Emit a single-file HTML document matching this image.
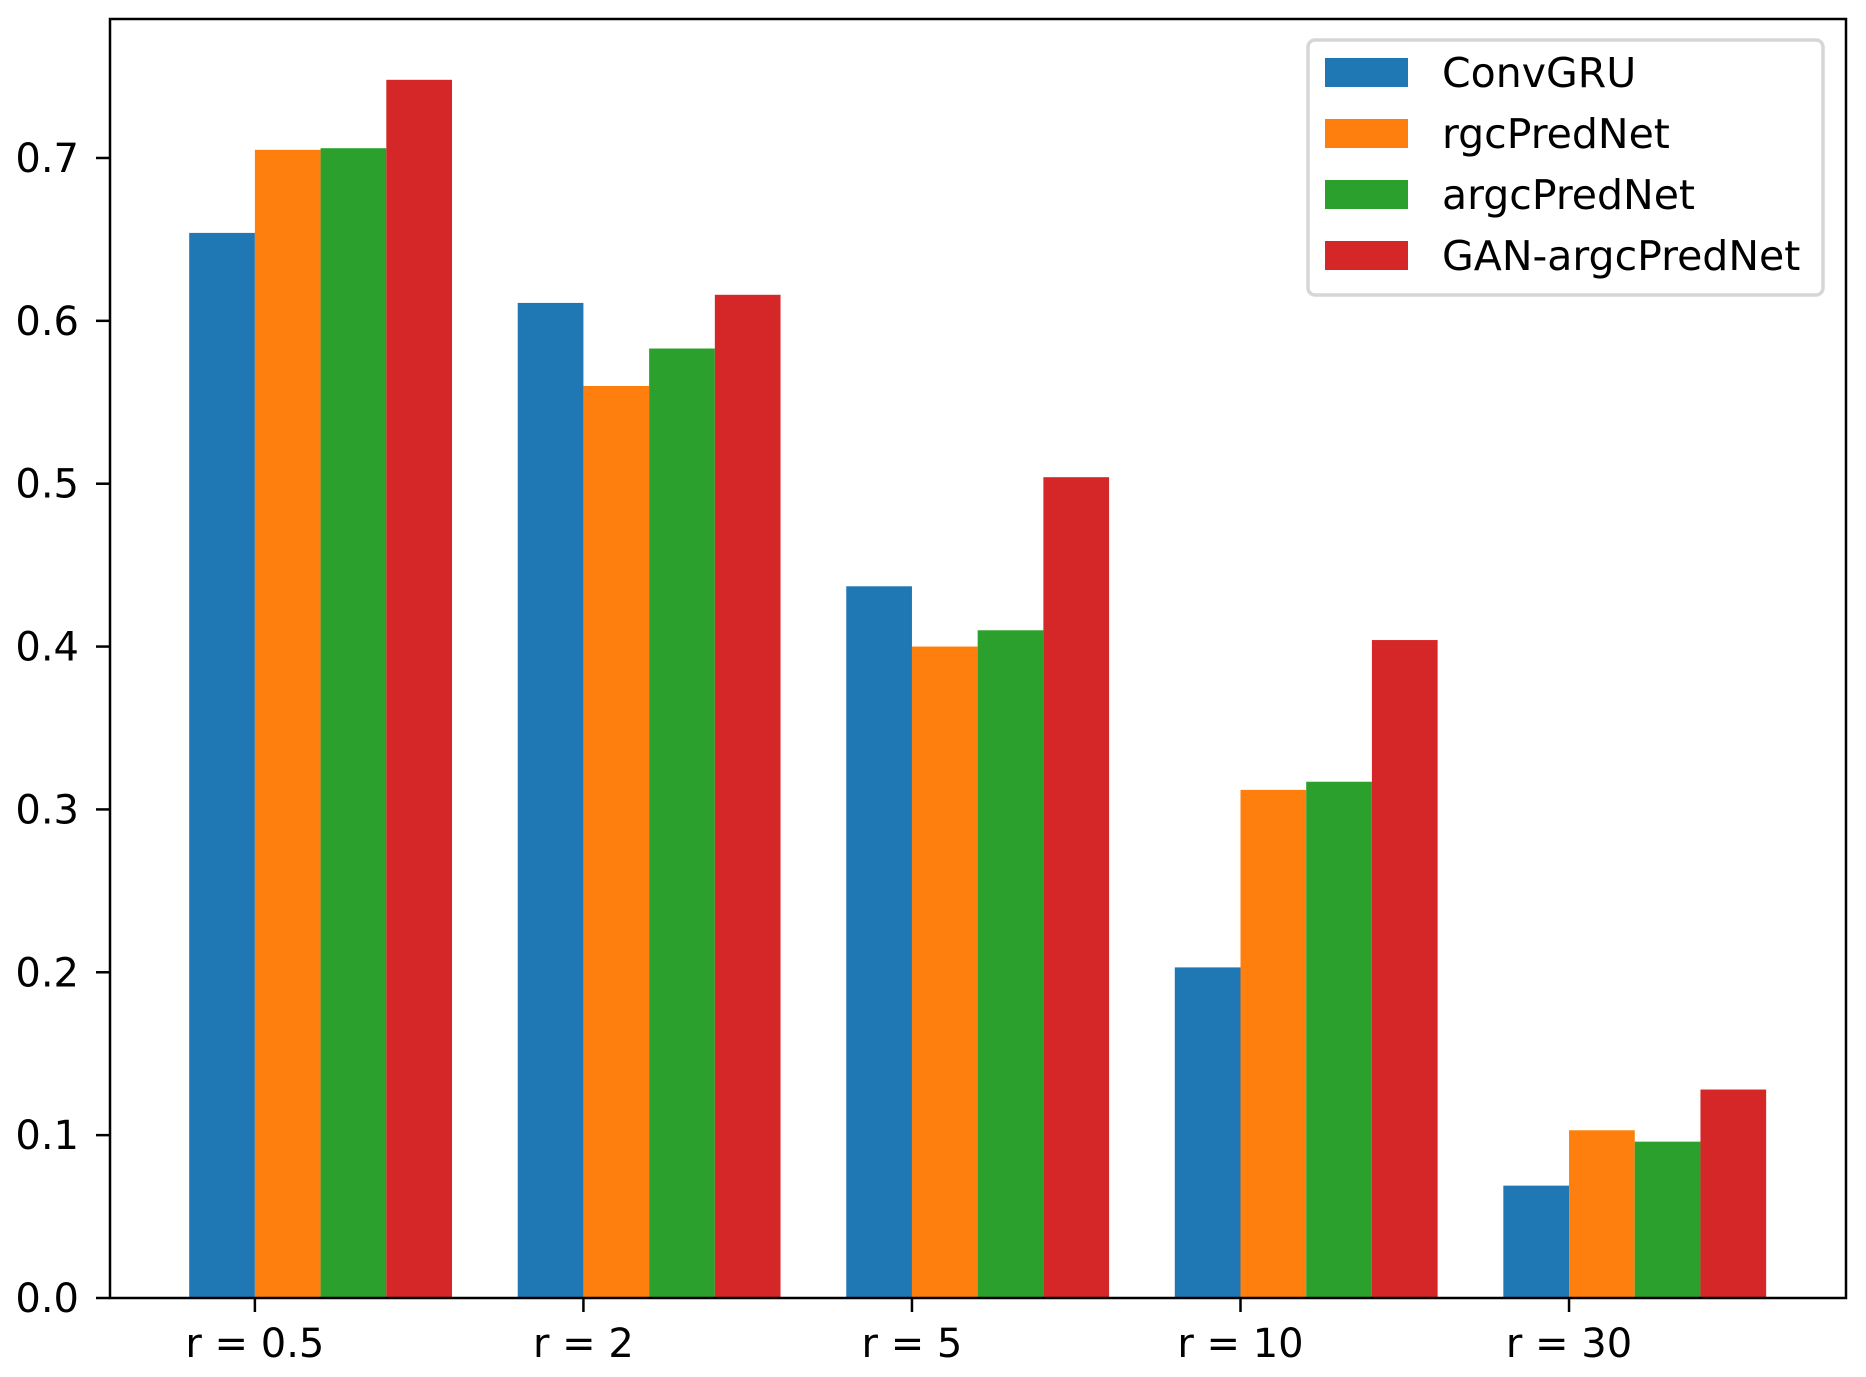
<!DOCTYPE html>
<html><head><meta charset="utf-8"><style>
html,body{margin:0;padding:0;background:#fff;}
svg{display:block;font-family:"DejaVu Sans","Liberation Sans",sans-serif;}
</style></head><body>
<svg id="chart" width="1866" height="1377" viewBox="0 0 1866 1377" xmlns="http://www.w3.org/2000/svg">
<rect width="1866" height="1377" fill="#fff"/>
<g id="bars"></g>
<g id="axes"></g>
<g id="legend"></g>
</svg>
<script>
const categories = ["r = 0.5", "r = 2", "r = 5", "r = 10", "r = 30"];
const seriesNames = ["ConvGRU", "rgcPredNet", "argcPredNet", "GAN-argcPredNet"];
const convgru = [0.654, 0.611, 0.437, 0.203, 0.069];
const rgcprednet = [0.705, 0.560, 0.400, 0.312, 0.103];
const argcprednet = [0.706, 0.583, 0.410, 0.317, 0.096];
const ganargcprednet = [0.748, 0.616, 0.504, 0.404, 0.128];
const yTicks = [0.0, 0.1, 0.2, 0.3, 0.4, 0.5, 0.6, 0.7];
const yTickLabels = ["0.0", "0.1", "0.2", "0.3", "0.4", "0.5", "0.6", "0.7"];

const NS = "http://www.w3.org/2000/svg";
const series = [convgru, rgcprednet, argcprednet, ganargcprednet];
const colors = ["#1f77b4", "#ff7f0e", "#2ca02c", "#d62728"];
const L = 110, R = 1846, T = 19, B = 1298;
const xMin = -0.441, xMax = 4.843, yMin = 0, yMax = (B - T) / 1628.6;
function xs(v){ return L + (v - xMin) / (xMax - xMin) * (R - L); }
function ys(v){ return B - (v - yMin) / (yMax - yMin) * (B - T); }
function mk(tag, attrs, parent){ const e = document.createElementNS(NS, tag); for (const k in attrs) e.setAttribute(k, attrs[k]); parent.appendChild(e); return e; }

const barsG = document.getElementById('bars');
const bw = 0.2;
series.forEach((vals, s) => {
  vals.forEach((v, i) => {
    const x0 = xs(i - 0.2 + s * bw), x1 = xs(i + s * bw);
    const r = mk('rect', {x: x0, y: ys(v), width: x1 - x0, height: ys(0) - ys(v), fill: colors[s]}, barsG);
    
    
  });
});

const ax = document.getElementById('axes');
const frame = mk('rect', {x: L, y: T, width: R - L, height: B - T, fill: 'none', stroke: '#000', 'stroke-width': 2.5}, ax);


yTicks.forEach((v, i) => {
  const y = ys(v);
  const t = mk('line', {x1: L - 14, x2: L, y1: y, y2: y, stroke: '#000', 'stroke-width': 2.5}, ax);
  
  
  const tx = mk('text', {x: L - 31, y: y + 14, 'font-size': 40, 'text-anchor': 'end', fill: '#000'}, ax);
  tx.textContent = yTickLabels[i];
  
  
});
categories.forEach((c, i) => {
  const x = xs(i);
  const t = mk('line', {x1: x, x2: x, y1: B, y2: B + 14, stroke: '#000', 'stroke-width': 2.5}, ax);
  
  
  const tx = mk('text', {x: x, y: 1357, 'font-size': 40, 'text-anchor': 'middle', fill: '#000'}, ax);
  tx.textContent = c;
  
  
});

const lg = document.getElementById('legend');
const box = mk('rect', {x: 1308, y: 40, width: 515, height: 255, rx: 7, fill: '#fff', 'fill-opacity': 0.8, stroke: '#d6d6d6', 'stroke-width': 3.5}, lg);


seriesNames.forEach((n, i) => {
  const cy = 72 + i * 61;
  const p = mk('rect', {x: 1325, y: cy - 14, width: 83, height: 29, fill: colors[i]}, lg);
  
  
  const tx = mk('text', {x: 1442, y: cy + 15, 'font-size': 41, fill: '#000'}, lg);
  tx.textContent = n;
  
  
});
</script>
</body></html>
